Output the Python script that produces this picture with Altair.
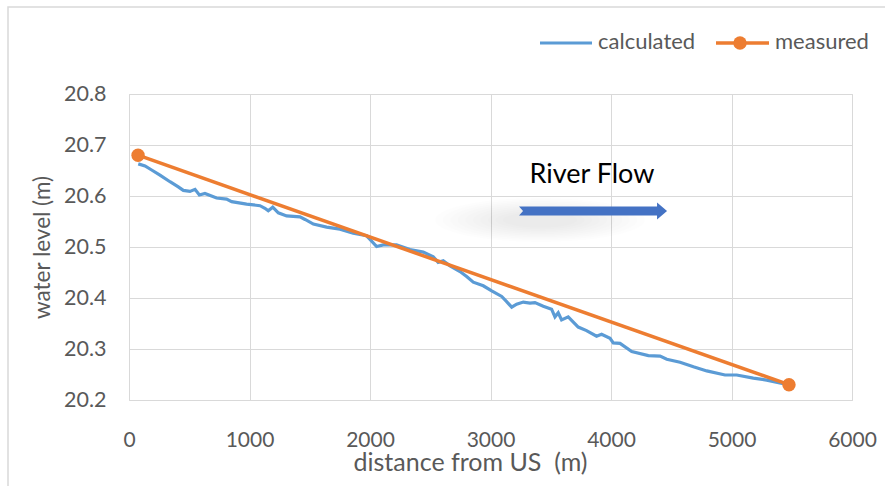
import altair as alt
import pandas as pd

# calculated water level profile
calc_x = [77, 133, 188, 257, 340, 409, 451, 506, 548, 584, 630, 727, 810, 852, 976, 1087,
          1128, 1156, 1193, 1239, 1308, 1419, 1461, 1530, 1640, 1751, 1861, 1972, 2000, 2055,
          2110, 2220, 2332, 2442, 2525, 2566, 2608, 2664, 2747, 2802, 2857, 2940, 3010, 3093,
          3134, 3176, 3217, 3272, 3328, 3369, 3438, 3507, 3535, 3562, 3590, 3645, 3728, 3797,
          3880, 3922, 3992, 4019, 4075, 4172, 4310, 4407, 4463, 4573, 4684, 4795, 4946, 5043,
          5181, 5292, 5430]
calc_y = [20.663, 20.659, 20.651, 20.641, 20.628, 20.618, 20.611, 20.609, 20.613, 20.602,
          20.605, 20.596, 20.594, 20.589, 20.584, 20.581, 20.576, 20.571, 20.578, 20.567,
          20.561, 20.559, 20.554, 20.545, 20.539, 20.535, 20.527, 20.522, 20.515, 20.501,
          20.504, 20.504, 20.495, 20.490, 20.481, 20.470, 20.473, 20.463, 20.452, 20.442,
          20.431, 20.424, 20.414, 20.403, 20.393, 20.382, 20.388, 20.392, 20.390, 20.391,
          20.384, 20.378, 20.363, 20.371, 20.357, 20.363, 20.343, 20.336, 20.325, 20.329,
          20.321, 20.312, 20.311, 20.295, 20.287, 20.286, 20.280, 20.274, 20.265, 20.257,
          20.249, 20.249, 20.243, 20.239, 20.232]

# measured water levels
meas_x = [75, 5477]
meas_y = [20.68, 20.23]

x_ticks = [0, 1000, 2000, 3000, 4000, 5000, 6000]
y_ticks = [20.2, 20.3, 20.4, 20.5, 20.6, 20.7, 20.8]

# annotation
note_text = ["River Flow"]
note_x = [3842]
note_y = [20.625]
arrow_x = [3851]
arrow_y = [20.5706]
glow_x = [3411]
glow_y = [20.553]
glow_widths = [210, 195, 180, 165, 150, 135, 120, 105, 90, 75]

FONT = "Lato"
GREY = "#595959"
BLUE = "#5B9BD5"
ORANGE = "#ED7D31"

calc_df = pd.DataFrame({"x": calc_x, "y": calc_y})
meas_df = pd.DataFrame({"x": meas_x, "y": meas_y})

xs = alt.Scale(domain=[0, 6000], nice=False)
ys = alt.Scale(domain=[20.2, 20.8], nice=False, zero=False)

x_axis = alt.Axis(values=x_ticks, format="d", title="distance from US \u00a0(m)",
                  grid=True, ticks=False, domain=False, labelPadding=29, labelFlush=False,
                  labelFontSize=21, labelColor=GREY, labelFont=FONT,
                  titleFont=FONT, titleFontSize=25, titleColor=GREY, titleFontWeight="normal",
                  titleX=341, titleY=70, titleBaseline="alphabetic", titleAlign="center")
y_axis = alt.Axis(values=y_ticks, format=".1f", title="water level (m)",
                  grid=True, ticks=False, domain=False, labelPadding=23,
                  labelFontSize=21.5, labelColor=GREY, labelFont=FONT,
                  titleFont=FONT, titleFontSize=22.5, titleColor=GREY, titleFontWeight="normal",
                  titleX=-80, titleY=153, titleAngle=-90, titleBaseline="alphabetic",
                  titleAlign="center")

ellipse = "M-1,0 A1,0.21 0 1,0 1,0 A1,0.21 0 1,0 -1,0 Z"
glow_df = pd.DataFrame({"x": glow_x * len(glow_widths), "y": glow_y * len(glow_widths),
                        "s": [w * w for w in glow_widths]})
glow = alt.Chart(glow_df).mark_point(
    shape=ellipse, filled=True, color="black", opacity=0.009, strokeWidth=0
).encode(
    x=alt.X("x:Q", scale=xs, axis=x_axis),
    y=alt.Y("y:Q", scale=ys, axis=y_axis),
    size=alt.Size("s:Q", scale=None, legend=None),
)

calc_line = alt.Chart(calc_df).mark_line(color=BLUE, strokeWidth=3.2).encode(
    x=alt.X("x:Q", scale=xs), y=alt.Y("y:Q", scale=ys))

meas_line = alt.Chart(meas_df).mark_line(color=ORANGE, strokeWidth=3.5).encode(
    x=alt.X("x:Q", scale=xs), y=alt.Y("y:Q", scale=ys))
meas_pts = alt.Chart(meas_df).mark_point(color=ORANGE, filled=True, size=180, opacity=1).encode(
    x=alt.X("x:Q", scale=xs), y=alt.Y("y:Q", scale=ys))

arrow_path = ("M-1,-0.061 L0.865,-0.061 L0.865,-0.115 L1,0 L0.865,0.115 "
              "L0.865,0.061 L-1,0.061 L-0.946,0 Z")
arrow = alt.Chart(pd.DataFrame({"x": arrow_x, "y": arrow_y})).mark_point(
    shape=arrow_path, filled=True, color="#4472C4", size=148 * 148, opacity=1, strokeWidth=0
).encode(x=alt.X("x:Q", scale=xs), y=alt.Y("y:Q", scale=ys))

note = alt.Chart(pd.DataFrame({"x": note_x, "y": note_y, "t": note_text})).mark_text(
    font=FONT, fontSize=27, color="black", align="center", baseline="alphabetic"
).encode(x=alt.X("x:Q", scale=xs), y=alt.Y("y:Q", scale=ys), text="t:N")

# legend (drawn by hand, top right)
one = pd.DataFrame({"a": [0]})
leg_calc = alt.Chart(one).mark_rule(color=BLUE, strokeWidth=3).encode(
    x=alt.value(411), x2=alt.value(463), y=alt.value(-51))
leg_calc_t = alt.Chart(one).mark_text(font=FONT, fontSize=22, color=GREY, align="left",
                                      baseline="middle", text="calculated").encode(
    x=alt.value(469), y=alt.value(-52))
leg_meas = alt.Chart(one).mark_rule(color=ORANGE, strokeWidth=3.5).encode(
    x=alt.value(587), x2=alt.value(640), y=alt.value(-51))
leg_meas_p = alt.Chart(one).mark_point(color=ORANGE, filled=True, size=180, opacity=1).encode(
    x=alt.value(611), y=alt.value(-51))
leg_meas_t = alt.Chart(one).mark_text(font=FONT, fontSize=22, color=GREY, align="left",
                                      baseline="middle", text="measured").encode(
    x=alt.value(646), y=alt.value(-52))

frame = alt.Chart(one).mark_rect(fill="transparent", stroke="#d9d9d9", strokeWidth=1.5).encode(
    x=alt.value(-121), x2=alt.value(800), y=alt.value(-87), y2=alt.value(450))

chart = alt.layer(
    glow, frame, calc_line, meas_line, meas_pts, arrow, note,
    leg_calc, leg_calc_t, leg_meas, leg_meas_p, leg_meas_t
).properties(
    width=723, height=306,
    autosize=alt.AutoSizeParams(type="none"),
    padding={"left": 129, "top": 94, "right": 33, "bottom": 86},
    background="white",
).configure_view(
    stroke="#d9d9d9", strokeWidth=1
).configure_axis(
    gridColor="#d9d9d9", gridWidth=1
)

chart.save("out.html", embed_options={"renderer": "svg", "actions": False})
